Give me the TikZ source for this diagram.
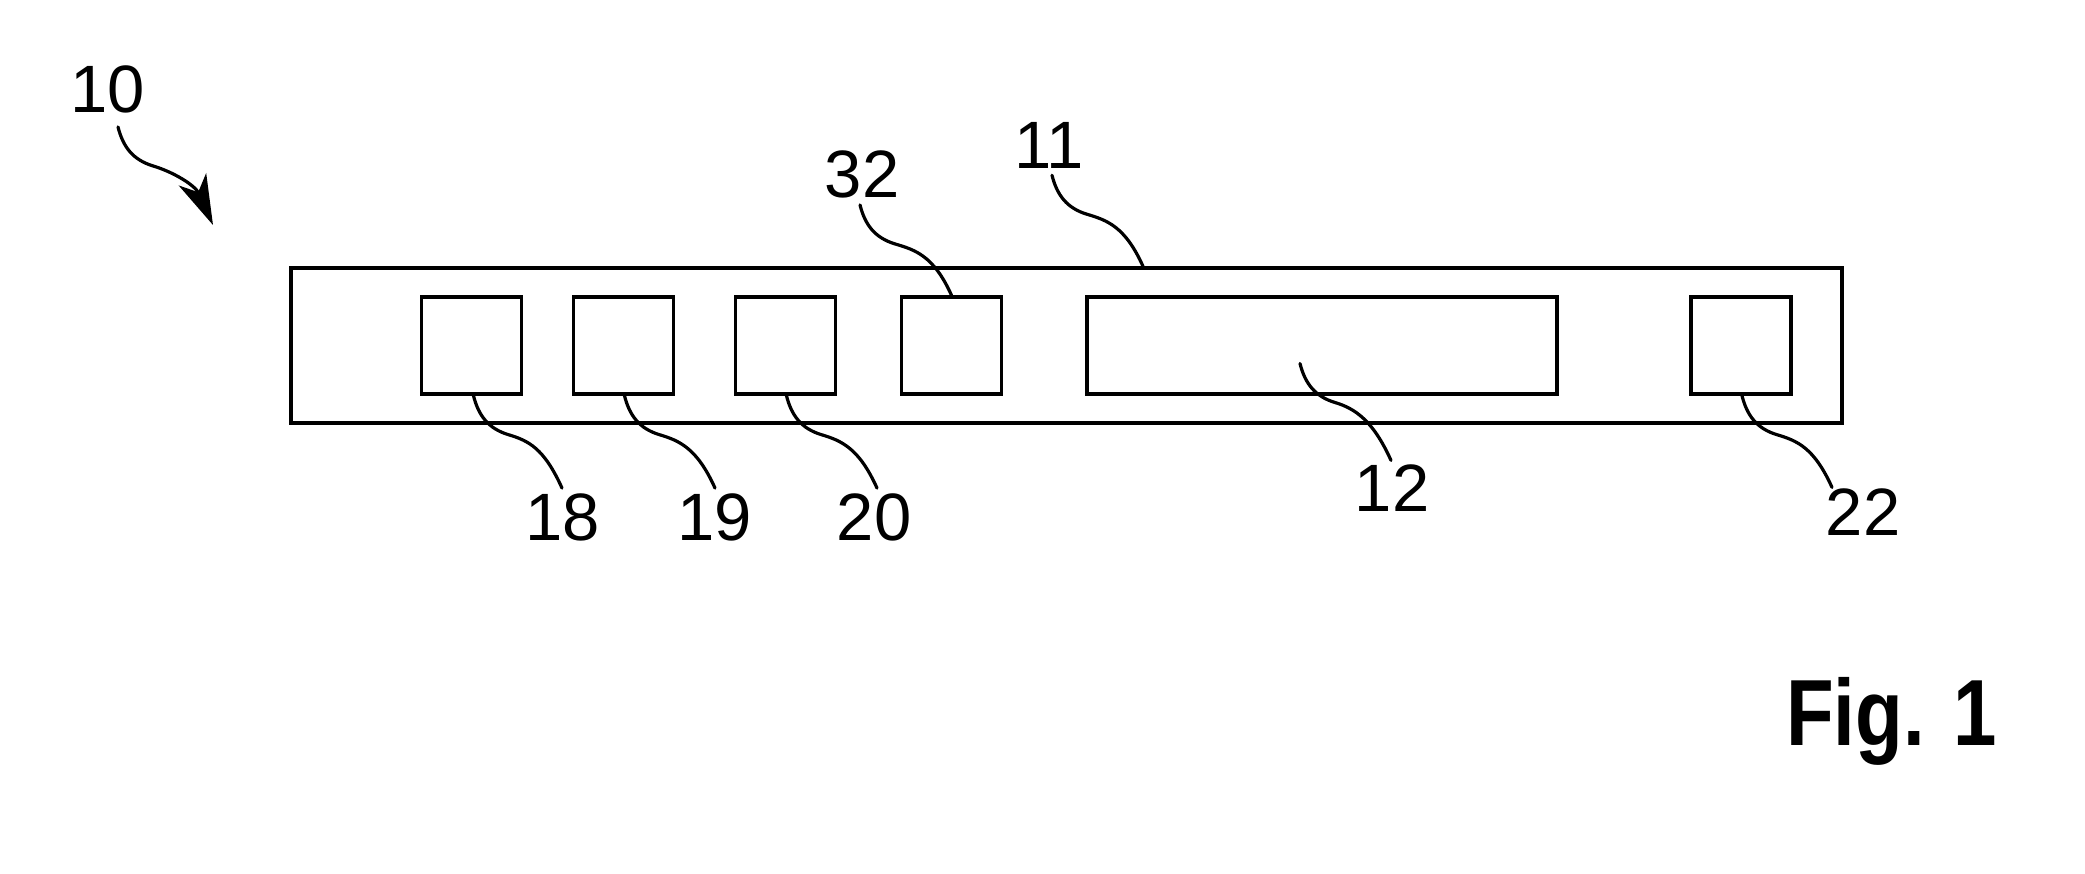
\documentclass[tikz,border=0pt]{standalone}
\usepackage{fontspec}
\setmainfont{Liberation Sans}
\usetikzlibrary{calc,arrows.meta}
\begin{document}
\begin{tikzpicture}[x=1pt,y=-1pt,
  box/.style={draw,line width=3.4pt,inner sep=0pt,minimum height=97pt},
  lbl/.style={inner sep=0pt,font=\fontsize{67}{67}\selectfont},
  lead/.style={line width=3.2pt,line cap=round,
    to path={.. controls ($(\tikztostart)+(5,20)$) and ($(\tikztostart)+(15,33)$)
      .. ($(\tikztostart)+(35,39)$) .. controls ($(\tikztostart)+(55,45)$)
      and ($(\tikztotarget)+(-18,-40)$) .. (\tikztotarget)}}]
\useasboundingbox (0,0) rectangle (2085,873);
% housing
\node[draw,line width=3.4pt,inner sep=0pt,minimum width=1551pt,minimum height=155pt] (outer) at (1066.5,345.5) {};
\node[box,minimum width=100pt] (b18) at (471.5,345.5) {};
\node[box,minimum width=100pt] (b19) at (623.5,345.5) {};
\node[box,minimum width=100pt] (b20) at (785.5,345.5) {};
\node[box,minimum width=100pt] (b32) at (951.5,345.5) {};
\node[box,minimum width=470pt] (b12) at (1322,345.5) {};
\node[box,minimum width=100pt] (b22) at (1741,345.5) {};
% labels
\node[lbl] (l10) at (108,89) {10};
\node[lbl] (l11) at (1049,145) {11};
\node[lbl] (l32) at (862,174) {32};
\node[lbl] (l18) at (563,517) {18};
\node[lbl] (l19) at (715,517) {19};
\node[lbl] (l20) at (874,517) {20};
\node[lbl] (l12) at (1392,488) {12};
\node[lbl] (l22) at (1863,512) {22};
\node[inner sep=0pt,anchor=base west,font=\bfseries\fontsize{94}{94}\selectfont] (fig) at (1786,745) {\scalebox{0.83}[1]{Fig. 1}};
% leader end points
\coordinate (s10) at ($(l10.south)+(10,14)$);
\coordinate (e10) at (213,225);
\coordinate (s11) at ($(l11.south)+(3,7)$);
\coordinate (e11) at ($(outer.north)+(76.5,0)$);
\coordinate (s32) at ($(l32.south)+(-2,7)$);
\coordinate (s18) at ($(b18.south)+(2,0)$);
\coordinate (e18) at ($(l18.north)+(-1,-5)$);
\coordinate (s19) at ($(b19.south)+(1,0)$);
\coordinate (e19) at ($(l19.north)+(0,-5)$);
\coordinate (s20) at ($(b20.south)+(1,0)$);
\coordinate (e20) at ($(l20.north)+(3,-5)$);
\coordinate (s12) at ($(b12.center)+(-22,18)$);
\coordinate (e12) at ($(l12.north)+(-1,-4)$);
\coordinate (s22) at ($(b22.south)+(1,0)$);
\coordinate (e22) at ($(l22.north)+(-31,-1)$);
% leaders
\draw[lead,-{Stealth[length=50pt,width=30pt,inset=14pt]}] (s10) to (e10);
\draw[lead] (s11) to (e11);
\draw[lead] (s32) to (b32.north);
\draw[lead] (s18) to (e18);
\draw[lead] (s19) to (e19);
\draw[lead] (s20) to (e20);
\draw[lead] (s12) to (e12);
\draw[lead] (s22) to (e22);
\end{tikzpicture}
\end{document}
